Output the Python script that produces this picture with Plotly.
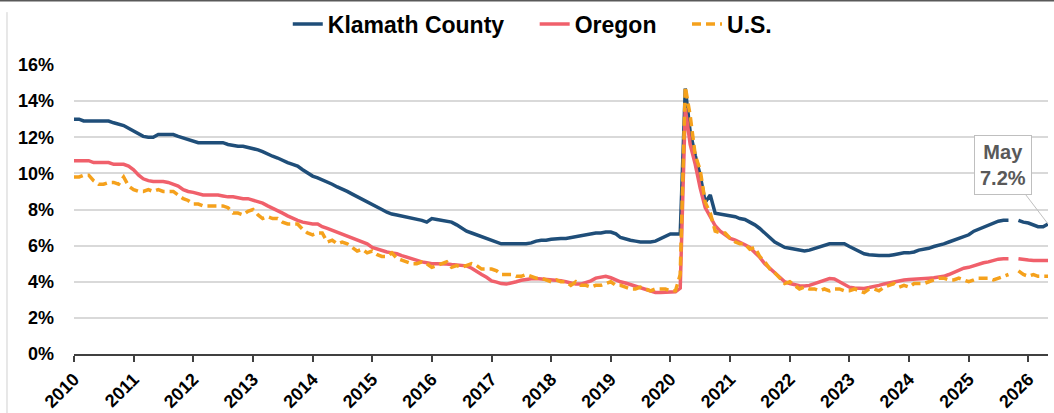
import pandas as pd
import plotly.graph_objects as go

# Monthly unemployment rate (%), Jan 2010 - May 2026; Oct 2025 not published
months = pd.date_range("2010-01-01", "2026-05-01", freq="MS")

klamath = [
    13.0, 13.0, 12.9, 12.9, 12.9, 12.9, 12.9, 12.9, 12.8, 12.75, 12.65, 12.5,    # 2010
    12.35, 12.2, 12.05, 12.0, 12.0, 12.15, 12.15, 12.15, 12.15, 12.05, 11.95, 11.85,  # 2011
    11.75, 11.7, 11.7, 11.7, 11.7, 11.7, 11.7, 11.6, 11.55, 11.5, 11.5, 11.45,  # 2012
    11.35, 11.3, 11.2, 11.05, 10.95, 10.85, 10.7, 10.6, 10.5, 10.4, 10.2, 10.0,  # 2013
    9.85, 9.75, 9.65, 9.5, 9.4, 9.25, 9.1, 9.0, 8.85, 8.7, 8.55, 8.4,  # 2014
    8.25, 8.1, 8.0, 7.85, 7.75, 7.7, 7.65, 7.6, 7.5, 7.45, 7.4, 7.3,  # 2015
    7.5, 7.45, 7.4, 7.35, 7.3, 7.15, 6.95, 6.8, 6.7, 6.6, 6.5, 6.4,  # 2016
    6.3, 6.15, 6.1, 6.1, 6.1, 6.1, 6.1, 6.1, 6.15, 6.25, 6.3, 6.3,  # 2017
    6.35, 6.4, 6.4, 6.4, 6.45, 6.5, 6.55, 6.6, 6.65, 6.7, 6.7, 6.75,  # 2018
    6.75, 6.65, 6.45, 6.35, 6.3, 6.25, 6.2, 6.2, 6.2, 6.25, 6.4, 6.55,  # 2019
    6.65, 6.65, 6.65, 14.7, 12.3, 11.0, 9.9, 8.4, 8.8, 7.8, 7.75, 7.7,  # 2020
    7.65, 7.6, 7.5, 7.45, 7.3, 7.15, 6.95, 6.7, 6.45, 6.2, 6.05, 5.9,  # 2021
    5.85, 5.8, 5.75, 5.7, 5.75, 5.85, 5.95, 6.05, 6.1, 6.1, 6.1, 6.1,  # 2022
    5.95, 5.8, 5.65, 5.55, 5.5, 5.45, 5.45, 5.45, 5.45, 5.5, 5.55, 5.6,  # 2023
    5.6, 5.65, 5.75, 5.8, 5.85, 5.95, 6.0, 6.1, 6.2, 6.3, 6.4, 6.5,  # 2024
    6.6, 6.8, 6.9, 7.0, 7.1, 7.25, 7.35, 7.4, 7.4, None, 7.4, 7.3,  # 2025
    7.25, 7.15, 7.05, 7.05, 7.2,  # 2026
]

oregon = [
    10.7, 10.7, 10.7, 10.7, 10.6, 10.6, 10.6, 10.6, 10.5, 10.5, 10.5, 10.4,  # 2010
    10.2, 9.9, 9.7, 9.6, 9.55, 9.55, 9.55, 9.5, 9.4, 9.3, 9.1, 9.0,  # 2011
    8.95, 8.85, 8.8, 8.8, 8.8, 8.8, 8.75, 8.7, 8.7, 8.65, 8.6, 8.6,  # 2012
    8.5, 8.45, 8.35, 8.2, 8.05, 7.9, 7.8, 7.65, 7.5, 7.4, 7.3, 7.25,  # 2013
    7.2, 7.2, 7.05, 6.95, 6.85, 6.75, 6.65, 6.55, 6.45, 6.35, 6.25, 6.1,  # 2014
    5.9, 5.8, 5.7, 5.65, 5.6, 5.55, 5.45, 5.35, 5.3, 5.2, 5.1, 5.05,  # 2015
    5.0, 5.0, 5.0, 4.98, 4.95, 4.92, 4.9, 4.88, 4.75, 4.55, 4.4, 4.25,  # 2016
    4.05, 3.98, 3.9, 3.87, 3.92, 4.0, 4.08, 4.13, 4.16, 4.18, 4.16, 4.15,  # 2017
    4.13, 4.1, 4.05, 4.0, 3.93, 3.87, 3.87, 3.95, 4.05, 4.2, 4.25, 4.3,  # 2018
    4.22, 4.1, 4.0, 3.93, 3.85, 3.75, 3.68, 3.6, 3.5, 3.41, 3.41, 3.41,  # 2019
    3.41, 3.45, 3.65, 13.6, 11.6, 10.5, 9.2, 8.1, 7.6, 7.1, 6.8, 6.6,  # 2020
    6.4, 6.3, 6.2, 6.05, 5.9, 5.65, 5.35, 5.0, 4.75, 4.45, 4.2, 4.0,  # 2021
    3.9, 3.82, 3.78, 3.76, 3.8, 3.9, 4.0, 4.1, 4.18, 4.15, 4.0, 3.85,  # 2022
    3.7, 3.65, 3.62, 3.63, 3.68, 3.72, 3.8, 3.88, 3.94, 4.0, 4.06, 4.1,  # 2023
    4.12, 4.15, 4.18, 4.2, 4.2, 4.22, 4.25, 4.3, 4.4, 4.5, 4.65, 4.75,  # 2024
    4.8, 4.9, 4.95, 5.05, 5.1, 5.2, 5.25, 5.27, 5.27, None, 5.27, 5.22,  # 2025
    5.2, 5.18, 5.18, 5.18, 5.18,  # 2026
]

us = [
    9.8, 9.8, 9.9, 9.9, 9.6, 9.4, 9.4, 9.5, 9.5, 9.4, 9.8, 9.3,  # 2010
    9.1, 9.0, 9.0, 9.1, 9.0, 9.1, 9.0, 9.0, 9.0, 8.8, 8.6, 8.5,  # 2011
    8.3, 8.3, 8.2, 8.2, 8.2, 8.2, 8.2, 8.1, 7.8, 7.8, 7.7, 7.9,  # 2012
    8.0, 7.7, 7.5, 7.6, 7.5, 7.5, 7.3, 7.2, 7.2, 7.2, 6.9, 6.7,  # 2013
    6.6, 6.7, 6.7, 6.2, 6.3, 6.1, 6.2, 6.1, 5.9, 5.7, 5.8, 5.6,  # 2014
    5.7, 5.5, 5.4, 5.4, 5.6, 5.3, 5.2, 5.1, 5.0, 5.0, 5.1, 5.0,  # 2015
    4.8, 4.9, 5.0, 5.1, 4.8, 4.9, 4.8, 4.9, 5.0, 4.9, 4.7, 4.7,  # 2016
    4.7, 4.6, 4.4, 4.4, 4.4, 4.3, 4.3, 4.4, 4.3, 4.2, 4.2, 4.1,  # 2017
    4.0, 4.1, 4.0, 4.0, 3.8, 4.0, 3.8, 3.8, 3.7, 3.8, 3.8, 3.9,  # 2018
    4.0, 3.8, 3.8, 3.7, 3.6, 3.6, 3.7, 3.6, 3.5, 3.6, 3.6, 3.6,  # 2019
    3.5, 3.5, 4.4, 14.8, 13.2, 11.0, 10.2, 8.4, 7.8, 6.8, 6.7, 6.7,  # 2020
    6.4, 6.2, 6.1, 6.1, 5.8, 5.9, 5.4, 5.1, 4.7, 4.5, 4.2, 3.9,  # 2021
    4.0, 3.8, 3.6, 3.7, 3.6, 3.6, 3.5, 3.6, 3.5, 3.6, 3.6, 3.5,  # 2022
    3.5, 3.6, 3.5, 3.4, 3.6, 3.6, 3.5, 3.7, 3.8, 3.9, 3.7, 3.8,  # 2023
    3.7, 3.9, 3.9, 3.9, 4.0, 4.1, 4.2, 4.2, 4.1, 4.1, 4.2, 4.1,  # 2024
    4.0, 4.1, 4.2, 4.2, 4.2, 4.1, 4.2, 4.3, 4.4, None, 4.6, 4.4,  # 2025
    4.3, 4.4, 4.3, 4.3, 4.3,  # 2026
]

year_ticks = pd.date_range("2010-01-01", "2026-01-01", freq="YS")
year_labels = [str(d.year) for d in year_ticks]
pct_ticks = [0, 2, 4, 6, 8, 10, 12, 14, 16]
pct_labels = [f"{v}%" for v in pct_ticks]

NAVY = "#1F4E79"
RED = "#F0606B"
ORANGE = "#F5A11C"
FONT = "Arial, Liberation Sans, sans-serif"

fig = go.Figure()

# trailing spaces widen the gaps between legend entries
fig.add_trace(go.Scatter(x=months, y=klamath, mode="lines", name="Klamath County    ",
                         line=dict(color=NAVY, width=3.5)))
fig.add_trace(go.Scatter(x=months, y=oregon, mode="lines", name="Oregon    ",
                         line=dict(color=RED, width=3.5)))
fig.add_trace(go.Scatter(x=months, y=us, mode="lines", name="U.S.",
                         line=dict(color=ORANGE, width=3.5, dash="9px,5px")))

# callout on latest Klamath value
fig.add_annotation(
    x=months[-1], y=klamath[-1],
    text="May<br>7.2%",
    showarrow=True, arrowhead=0, arrowwidth=1, arrowcolor="#BFBFBF",
    ax=-45, ay=-59,
    bgcolor="white", bordercolor="#BFBFBF", borderwidth=1, borderpad=5,
    font=dict(family=FONT, size=20, color="#595959", weight="bold"),
)

# chart frame edges
fig.add_shape(type="line", xref="paper", yref="paper",
              x0=-0.0688, x1=-0.0688, y0=1.183, y1=-0.21,
              line=dict(color="#D0D0D0", width=1))
fig.add_shape(type="line", xref="paper", yref="paper",
              x0=-0.08, x1=1.01, y0=1.222, y1=1.222,
              line=dict(color="#595959", width=1.5))

fig.update_layout(
    width=1054, height=413,
    margin=dict(l=74, r=6, t=65, b=59),
    paper_bgcolor="white", plot_bgcolor="white",
    font=dict(family=FONT, color="black"),
    showlegend=True,
    legend=dict(orientation="h", xref="container", yref="container",
                x=0.505, xanchor="center", y=0.942, yanchor="middle",
                bgcolor="rgba(0,0,0,0)",
                font=dict(size=23, weight="bold"), traceorder="normal"),
    xaxis=dict(
        type="date", range=[months[0], months[-1]],
        tickvals=year_ticks, ticktext=year_labels, tickangle=-45,
        tickfont=dict(size=18, weight="bold"),
        showgrid=False, showline=True, linecolor="#404040", linewidth=1.5,
        ticks="outside", tickcolor="#404040", tickwidth=1.5, ticklen=6,
        automargin=False,
    ),
    yaxis=dict(
        range=[0, 16], tickmode="array", tickvals=pct_ticks, ticktext=pct_labels,
        tickfont=dict(size=18, weight="bold"),
        showgrid=True, gridcolor="#D9D9D9", gridwidth=1.5,
        zeroline=False, showline=False, ticks="", ticklabelstandoff=19,
        automargin=False,
    ),
)

fig.write_html("out.html", config={"displayModeBar": False},
               post_script="document.body.style.margin='0';")
